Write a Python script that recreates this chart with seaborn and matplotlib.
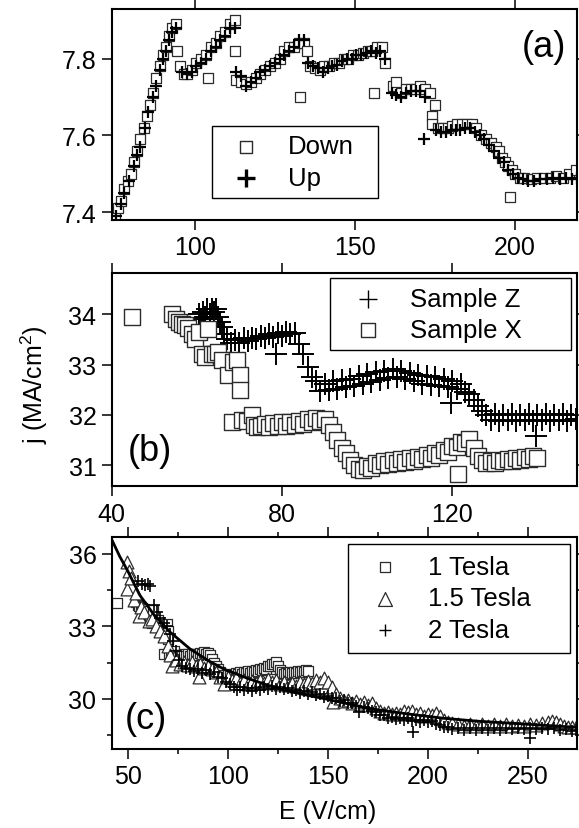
import numpy as np
import pandas as pd
import seaborn as sns
import matplotlib.pyplot as plt
from matplotlib.ticker import MultipleLocator

# ---------------- (a) sweep down / up ----------------
a_down_E = [75.0, 76.0, 77.0, 78.0, 79.0, 80.0, 81.0, 82.0, 83.0, 84.0, 85.0, 86.0, 87.0, 88.0, 89.0,
            90.0, 91.0, 92.0, 93.0, 94.0, 94.5, 95.5, 96.5, 97.5, 99.0, 100.5, 102.0, 103.5, 104.2, 105.0,
            106.5, 108.0, 109.5, 111.0, 112.5, 112.5, 113.0, 114.5, 116.0, 117.5, 119.0, 120.5, 122.0,
            123.5, 125.0, 126.5, 128.0, 129.5, 131.0, 132.5, 133.0, 134.0, 135.0, 136.0, 137.5, 139.0,
            140.5, 142.0, 143.5, 145.0, 146.5, 148.0, 149.5, 151.0, 152.5, 154.0, 155.5, 156.0, 157.0,
            158.5, 159.5, 162.0, 163.0, 164.5, 166.0, 167.5, 169.0, 170.5, 172.0, 173.5, 174.0, 174.0,
            175.0, 176.0, 177.5, 179.0, 180.5, 182.0, 183.5, 185.0, 186.5, 188.0, 189.5, 191.0, 192.5,
            194.0, 195.0, 196.0, 197.0, 198.0, 198.5, 199.0, 200.0, 201.5, 203.0, 205.0, 207.0, 209.0,
            211.0, 213.0, 215.0, 217.0, 219.0]
a_down_j = [7.39, 7.41, 7.43, 7.46, 7.48, 7.50, 7.53, 7.56, 7.59, 7.62, 7.65, 7.68, 7.71, 7.75, 7.78,
            7.81, 7.83, 7.86, 7.88, 7.89, 7.82, 7.78, 7.76, 7.76, 7.77, 7.79, 7.80, 7.81, 7.75, 7.83,
            7.84, 7.86, 7.87, 7.89, 7.90, 7.82, 7.745, 7.74, 7.735, 7.74, 7.75, 7.76, 7.77,
            7.78, 7.79, 7.80, 7.82, 7.83, 7.83, 7.84, 7.70, 7.84, 7.82, 7.78, 7.775, 7.77,
            7.78, 7.78, 7.79, 7.79, 7.80, 7.80, 7.81, 7.81, 7.815, 7.82, 7.82, 7.71, 7.83,
            7.83, 7.79, 7.73, 7.74, 7.71, 7.72, 7.72, 7.72, 7.73, 7.72, 7.71, 7.65, 7.63,
            7.68, 7.62, 7.62, 7.62, 7.625, 7.63, 7.63, 7.63, 7.63, 7.62, 7.60, 7.59, 7.58,
            7.57, 7.56, 7.54, 7.53, 7.52, 7.44, 7.51, 7.50, 7.49, 7.49, 7.485, 7.49, 7.49,
            7.49, 7.495, 7.49, 7.50, 7.51]
a_up_E = [75.5, 77.0, 78.0, 79.5, 81.0, 82.0, 83.0, 84.5, 85.5, 87.0, 88.0, 89.0, 90.0, 91.0, 92.0,
          93.0, 94.0, 96.0, 97.5, 99.0, 100.5, 102.0, 103.5, 105.0, 106.5, 108.0, 109.5, 111.0, 112.5,
          113.0, 114.5, 116.0, 117.5, 119.0, 120.5, 122.0, 123.5, 125.0, 126.5, 128.0, 129.5, 131.0,
          132.5, 134.0, 135.5, 137.0, 138.5, 140.0, 141.5, 143.0, 144.5, 146.0, 147.5, 149.0, 150.5,
          152.0, 153.5, 155.0, 156.5, 158.0, 159.5, 161.5, 163.0, 164.5, 166.0, 167.5, 169.0, 170.5,
          171.5, 172.0, 175.5, 177.0, 178.5, 180.0, 181.5, 183.0, 184.5, 186.0, 187.5, 189.0, 190.5,
          192.0, 193.5, 195.0, 196.5, 198.0, 199.5, 201.0, 202.5, 204.0, 206.0, 208.0, 210.0, 212.0,
          214.0, 216.0, 218.0, 219.5]
a_up_j = [7.39, 7.42, 7.45, 7.48, 7.52, 7.55, 7.57, 7.62, 7.66, 7.70, 7.73, 7.77, 7.80, 7.82, 7.85,
          7.87, 7.88, 7.765, 7.76, 7.765, 7.78, 7.79, 7.80, 7.82, 7.83, 7.85, 7.86, 7.88, 7.88,
          7.765, 7.755, 7.73, 7.74, 7.75, 7.765, 7.77, 7.78, 7.79, 7.80, 7.81, 7.82, 7.83,
          7.85, 7.85, 7.79, 7.78, 7.775, 7.765, 7.775, 7.78, 7.785, 7.795, 7.80, 7.80, 7.81,
          7.81, 7.815, 7.82, 7.815, 7.82, 7.80, 7.71, 7.705, 7.70, 7.71, 7.715, 7.715, 7.715,
          7.59, 7.70, 7.615, 7.61, 7.61, 7.615, 7.615, 7.615, 7.62, 7.62, 7.61, 7.60, 7.59,
          7.575, 7.56, 7.54, 7.53, 7.51, 7.50, 7.49, 7.485, 7.48, 7.48, 7.485, 7.485, 7.49,
          7.485, 7.49, 7.485, 7.49]

# ---------------- (b) sample Z / sample X ----------------
b_z_E = [60.5, 61, 61.5, 62, 62.5, 63, 63.5, 64, 64.5, 65, 65.5, 66, 66.5, 67, 68, 69, 70, 71, 72,
         73, 74, 75, 76, 77, 78, 78.7, 79, 80, 81, 82, 83, 84, 85, 86, 87, 88, 89, 90, 91, 92, 93,
         94, 95, 96, 97, 98, 99, 100, 101, 102, 103, 104, 105, 106, 107, 108, 109, 110, 111, 112,
         113, 114, 115, 116, 117, 118, 119, 119.8, 120, 121, 122, 123, 124, 125, 126, 127, 128,
         129, 130, 131, 132, 133, 134, 135, 136, 137, 138, 139, 139.6, 140, 141, 142, 143, 144,
         145, 146, 147, 148, 149]
b_z_j = [34.00, 33.90, 34.05, 33.95, 34.10, 34.00, 34.10, 34.05, 34.10, 33.95, 33.85, 33.75, 33.60,
         33.50, 33.42, 33.48, 33.43, 33.52, 33.47, 33.53, 33.50, 33.57, 33.52, 33.60, 33.55, 33.20,
         33.62, 33.57, 33.65, 33.60, 33.62, 33.40, 33.20, 32.95, 32.75, 32.68, 32.48, 32.62, 32.50,
         32.68, 32.52, 32.70, 32.55, 32.72, 32.58, 32.78, 32.62, 32.82, 32.66, 32.86, 32.70, 32.88,
         32.74, 32.92, 32.76, 32.88, 32.72, 32.84, 32.68, 32.80, 32.62, 32.78, 32.60, 32.76, 32.58,
         32.72, 32.56, 32.24, 32.68, 32.52, 32.62, 32.45, 32.42, 32.30, 32.18, 32.08, 32.00,
         31.90, 32.02, 31.88, 32.00, 31.90, 32.02, 31.88, 32.00, 31.90, 32.02, 31.88, 31.58, 32.00,
         31.90, 32.02, 31.88, 32.00, 31.90, 32.02, 31.88, 32.00, 31.92]
b_x_E = [44.7, 54.2, 55.0, 55.8, 56.5, 57.2, 58.0, 58.8, 59.5, 60.5, 61.2, 62.0, 62.7, 63.5, 64.3,
         65.0, 65.8, 67.4, 68.2, 68.5, 69.5, 70.1, 70.1, 70.5, 71.7, 72.9, 73.5, 74.2, 75, 76, 77,
         78, 79, 80, 81, 82, 83, 84, 85, 86, 87, 88, 89, 90, 91, 92, 93, 94, 95, 96, 97, 98, 99,
         100, 101, 102, 103, 104, 105, 106, 107, 108, 109, 110, 111, 112, 113, 114, 115, 116, 117,
         118, 119, 120, 121, 121.4, 122, 123, 124, 125, 126, 127, 128, 129, 130, 131, 132, 133,
         134, 135, 136, 137, 138, 139, 140]
b_x_j = [33.95, 34.00, 33.90, 33.85, 33.80, 33.78, 33.72, 33.60, 33.50, 33.65, 33.20, 33.15, 33.70,
         33.20, 33.20, 33.25, 33.10, 32.80, 31.85, 33.05, 33.10, 32.80, 32.50, 31.90, 31.88, 32.00,
         31.80, 31.75, 31.78, 31.82, 31.76, 31.84, 31.78, 31.85, 31.78, 31.86, 31.80, 31.88, 31.82,
         31.92, 31.86, 31.94, 31.88, 31.92, 31.80, 31.65, 31.50, 31.35, 31.25, 31.10, 31.00, 30.92,
         30.90, 30.98, 30.95, 31.05, 31.00, 31.08, 31.02, 31.10, 31.04, 31.12, 31.06, 31.14, 31.08,
         31.17, 31.12, 31.20, 31.15, 31.24, 31.20, 31.30, 31.26, 31.38, 31.36, 30.82, 31.46, 31.44,
         31.52, 31.35, 31.18, 31.10, 31.05, 31.08, 31.05, 31.10, 31.08, 31.12, 31.08, 31.14, 31.10,
         31.16, 31.12, 31.18, 31.15]

# ---------------- (c) field dependence ----------------
c_1t_E = b_x_E          # the 1 Tesla run is sample X again
c_1t_j = b_x_j
c_15t_E = [49.6, 50.5, 49.8, 51.5, 52.9, 54.0, 55.4, 56.5, 58.0, 60.4, 62.0, 64.0, 66.2, 68.0, 70.0,
           71.2, 72.1, 74.0, 76.0, 78.0, 80.0, 82.0, 84.0, 85.4, 86.0, 88.0, 90.0, 92.0, 94.0, 96.0,
           97.9, 100.0, 102.0, 104.0, 106.0, 108.0, 110.0, 112.0, 114.0, 116.0, 118.0, 120.0, 122.0,
           124.0, 126.0, 128.0, 130.0, 132.0, 134.0, 136.0, 138.0, 140.0, 142.0, 144.0, 146.0, 148.0,
           150.0, 152.0, 152.7, 154.0, 156.0, 158.0, 160.0, 162.0, 164.0, 166.0, 168.0, 170.0, 172.0,
           174.0, 176.0, 178.0, 180.0, 182.0, 184.0, 186.0, 188.0, 190.0, 192.0, 194.0, 196.0, 198.0,
           200.0, 202.0, 204.0, 206.0, 208.0, 210.0, 212.0, 215.0, 218.0, 221.0, 224.0, 227.0, 230.0,
           233.0, 236.0, 239.0, 242.0, 245.0, 248.0, 251.0, 254.0, 257.0, 260.0, 262.0, 264.0, 266.0,
           268.0, 270.0, 272.0, 274.0]
c_15t_j = [35.66, 35.30, 34.55, 35.00, 34.10, 34.40, 33.45, 33.80, 33.60, 33.24, 33.30, 33.00, 32.80,
           32.60, 32.20, 31.80, 31.38, 31.60, 31.45, 31.55, 31.42, 31.52, 31.38, 30.90, 31.45, 31.30,
           31.38, 31.22, 31.10, 30.90, 30.62, 30.92, 30.78, 30.85, 30.68, 30.78, 30.62, 30.76, 30.64,
           30.80, 30.68, 30.84, 30.70, 30.80, 30.62, 30.72, 30.56, 30.68, 30.55, 30.70, 30.60, 30.75,
           30.64, 30.80, 30.70, 30.85, 30.72, 30.50, 29.87, 30.20, 30.05, 29.92, 29.95, 29.82, 29.90,
           29.80, 29.88, 29.76, 29.82, 29.62, 29.52, 29.40, 29.48, 29.36, 29.44, 29.38, 29.50, 29.45,
           29.52, 29.38, 29.42, 29.30, 29.38, 29.32, 29.42, 29.30, 29.15, 29.05, 29.00, 28.95, 28.90,
           28.95, 28.88, 28.96, 28.90, 28.97, 28.88, 28.95, 28.88, 28.94, 28.88, 28.95, 28.92, 29.00,
           29.06, 29.10, 29.05, 28.96, 28.88, 28.84, 28.86, 28.82]
c_2t_E = [55.0, 57.1, 58.5, 60.0, 61.3, 63.0, 64.5, 66.0, 68.0, 69.6, 71.0, 72.5, 74.0, 75.5, 77.0,
          79.0, 81.3, 83.0, 85.0, 87.0, 89.0, 91.0, 93.0, 95.0, 97.0, 99.0, 101.0, 103.0, 104.6,
          106.0, 108.0, 110.0, 112.0, 114.0, 116.0, 118.0, 120.0, 122.0, 124.0, 126.0, 128.0, 130.0,
          132.0, 134.0, 136.0, 138.0, 140.0, 142.0, 144.0, 146.0, 148.0, 150.0, 152.0, 154.0, 156.0,
          158.0, 160.0, 162.0, 164.0, 165.7, 168.0, 170.0, 172.0, 174.0, 176.0, 178.0, 180.0, 182.0,
          184.0, 186.0, 188.0, 190.0, 192.0, 192.5, 194.0, 196.0, 198.0, 200.0, 202.0, 204.0, 206.0,
          208.0, 210.0, 212.0, 215.0, 218.0, 221.0, 224.0, 227.0, 230.0, 233.0, 236.0, 239.0, 242.0,
          245.0, 248.0, 251.0, 251.0, 254.0, 257.0, 260.0, 263.0, 266.0, 269.0, 272.0, 274.0]
c_2t_j = [34.90, 34.76, 34.72, 34.75, 34.69, 33.90, 33.60, 33.35, 33.15, 33.03, 32.70, 32.40, 32.00,
          31.60, 31.35, 31.30, 31.24, 31.15, 31.25, 31.08, 31.18, 31.02, 31.10, 30.92, 30.85, 30.70,
          30.60, 30.48, 30.38, 30.48, 30.36, 30.46, 30.34, 30.46, 30.38, 30.50, 30.40, 30.52, 30.42,
          30.50, 30.40, 30.46, 30.34, 30.38, 30.26, 30.32, 30.22, 30.28, 30.18, 30.22, 30.10, 30.14,
          30.02, 30.04, 29.92, 29.94, 29.82, 29.84, 29.72, 29.45, 29.66, 29.62, 29.52, 29.46, 29.34,
          29.32, 29.22, 29.24, 29.16, 29.22, 29.14, 29.20, 29.10, 28.62, 29.14, 29.06, 29.12, 29.04,
          29.08, 28.98, 28.94, 28.86, 28.84, 28.76, 28.80, 28.72, 28.78, 28.70, 28.78, 28.72, 28.80,
          28.72, 28.80, 28.74, 28.80, 28.74, 28.38, 28.80, 28.74, 28.80, 28.74, 28.78, 28.72, 28.74,
          28.68, 28.70]
c_fit_E = [42, 46, 50, 56, 63, 71, 81, 90, 98, 110, 125, 137, 149, 160, 171, 190, 208, 225, 245, 260, 274]
c_fit_j = [36.60, 35.90, 35.30, 34.30, 33.50, 32.78, 32.08, 31.60, 31.24, 30.85, 30.43, 30.20, 30.00,
           29.80, 29.60, 29.38, 29.20, 29.08, 28.98, 28.90, 28.83]

# ---------------- style ----------------
sns.set_style("ticks")
plt.rcParams['font.family'] = ['Liberation Sans', 'DejaVu Sans']
plt.rcParams['text.color'] = 'black'
plt.rcParams['axes.labelcolor'] = 'black'
plt.rcParams['mathtext.fontset'] = 'custom'
plt.rcParams['mathtext.rm'] = 'Liberation Sans'
plt.rcParams['mathtext.it'] = 'Liberation Sans:italic'

fig = plt.figure(figsize=(5.79, 8.29), dpi=100)
L, W = 0.1929, 0.8036
ax_a = fig.add_axes([L, 0.7338, W, 0.2542])
ax_b = fig.add_axes([L, 0.4122, W, 0.2573])
ax_c = fig.add_axes([L, 0.0953, W, 0.2554])

SQ = dict(marker='s', color='white', edgecolor='#2b2b2b')
PL = dict(marker='+', color='black')

# (a)
sns.scatterplot(x=a_down_E, y=a_down_j, s=55, linewidth=0.9, label='Down', ax=ax_a, **SQ)
sns.scatterplot(x=a_up_E, y=a_up_j, s=85, linewidth=1.6, label='Up', ax=ax_a, **PL)
ax_a.set_xlim(74, 219.4)
ax_a.set_ylim(7.38, 7.93)
ax_a.xaxis.set_major_locator(MultipleLocator(50))
ax_a.yaxis.set_major_locator(MultipleLocator(0.2))

# (b)
sns.scatterplot(x=b_z_E, y=b_z_j, s=230, linewidth=1.4, label='Sample Z', ax=ax_b, **PL)
sns.scatterplot(x=b_x_E, y=b_x_j, s=130, linewidth=1.0, label='Sample X', ax=ax_b, **SQ)
ax_b.set_xlim(40, 149.3)
ax_b.set_ylim(30.58, 34.82)
ax_b.xaxis.set_major_locator(MultipleLocator(40))
ax_b.yaxis.set_major_locator(MultipleLocator(1))

# (c)
sns.scatterplot(x=c_1t_E, y=c_1t_j, s=55, linewidth=0.9, label='1 Tesla', ax=ax_c, **SQ)
sns.scatterplot(x=c_15t_E, y=c_15t_j, marker='^', s=85, color='white', edgecolor='#2b2b2b',
                linewidth=0.9, label='1.5 Tesla', ax=ax_c)
sns.scatterplot(x=c_2t_E, y=c_2t_j, s=85, linewidth=1.2, label='2 Tesla', ax=ax_c, **PL)
sns.lineplot(x=c_fit_E, y=c_fit_j, color='black', linewidth=2.0, ax=ax_c, zorder=5)
ax_c.set_xlim(42, 274.5)
ax_c.set_ylim(27.93, 36.69)
ax_c.xaxis.set_major_locator(MultipleLocator(50))
ax_c.xaxis.set_minor_locator(MultipleLocator(25))
ax_c.yaxis.set_major_locator(MultipleLocator(3))
ax_c.yaxis.set_minor_locator(MultipleLocator(1.5))

for ax in (ax_a, ax_b, ax_c):
    ax.tick_params(which='both', direction='out', top=True, right=True, colors='black',
                   labelsize=18, pad=4, width=1.1)
    ax.tick_params(which='major', length=7)
    ax.tick_params(which='minor', length=3.5)
    for sp in ax.spines.values():
        sp.set_linewidth(1.5)
        sp.set_color('black')
    ax.set_xlabel('')
    ax.set_ylabel('')


def box_legend(ax, x0, x1, top, hl, htp, ls, bp, sizes):
    h, l = ax.get_legend_handles_labels()
    leg = ax.legend(h, l, loc='upper left', bbox_to_anchor=(x0, 0, x1 - x0, top), mode='expand',
                    borderaxespad=0, fontsize=18.5, handlelength=hl, handletextpad=htp,
                    labelspacing=ls, borderpad=bp, frameon=True, fancybox=False, framealpha=1,
                    edgecolor='black', scatterpoints=1)
    leg.get_frame().set_linewidth(1.0)
    for hd, (s, lw) in zip(leg.legend_handles, sizes):
        hd.set_sizes([s])
        hd.set_linewidths([lw])
    return leg


box_legend(ax_a, 0.2156, 0.572, 0.4447, 2.0, 0.64, 0.28, 0.33, [(75, 1.0), (170, 2.4)])
box_legend(ax_b, 0.469, 0.988, 0.975, 2.27, 0.52, 0.28, 0.33, [(150, 1.0), (100, 1.0)])
box_legend(ax_c, 0.5085, 0.985, 0.968, 2.04, 0.65, 0.30, 0.41, [(52, 0.9), (100, 0.9), (75, 1.0)])

ax_a.text(0.976, 0.82, '(a)', transform=ax_a.transAxes, ha='right', va='center', fontsize=26)
ax_b.text(0.035, 0.17, '(b)', transform=ax_b.transAxes, ha='left', va='center', fontsize=26)
ax_c.text(0.0286, 0.142, '(c)', transform=ax_c.transAxes, ha='left', va='center', fontsize=26)

ax_b.set_ylabel('j (MA/cm$^2$)', fontsize=18)
ax_b.yaxis.set_label_coords(-0.1326, 0.48)
ax_c.set_xlabel('E (V/cm)', fontsize=18)
ax_c.xaxis.set_label_coords(0.4638, -0.236)

fig.savefig('out.png', dpi=100)
